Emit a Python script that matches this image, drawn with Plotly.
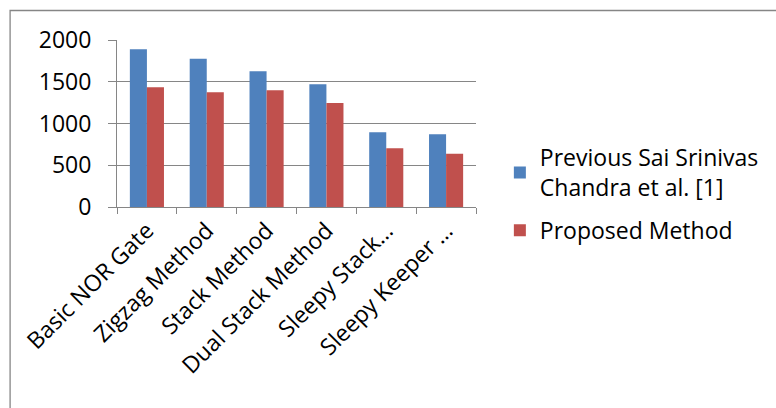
import plotly.graph_objects as go

categories = ["Basic NOR Gate", "Zigzag Method", "Stack Method", "Dual Stack Method",
              "Sleepy Stack…", "Sleepy Keeper …"]
previous = [1890, 1775, 1625, 1470, 895, 872]
proposed = [1435, 1374, 1398, 1247, 705, 637]
series_names = ["Previous Sai Srinivas<br>Chandra et al. [1]", "Proposed Method"]
y_ticks = [0, 500, 1000, 1500, 2000]

FONT = "Open Sans"
FS = 23
W, H = 776, 408
L, R, T, B = 117, 298, 40, 201
pw, ph = W - L - R, H - T - B

fig = go.Figure()
fig.add_trace(go.Bar(x=categories, y=previous, name=series_names[0], legendgroup="prev",
                     marker=dict(color="#4F81BD", line=dict(width=0))))
fig.add_trace(go.Bar(x=categories, y=proposed, name=series_names[1], legendgroup="prop",
                     marker=dict(color="#C0504D", line=dict(width=0))))

fig.update_layout(
    width=W, height=H,
    margin=dict(l=L, r=R, t=T, b=B),
    paper_bgcolor="white", plot_bgcolor="white",
    barmode="group", bargap=0.43, bargroupgap=0,
    font=dict(family=FONT, size=FS, color="black"),
    showlegend=True,
    legend=dict(x=(502 - L) / pw, xanchor="left", y=(H - B - 136) / ph, yanchor="top",
                font=dict(family=FONT, size=FS), tracegroupgap=10,
                bgcolor="rgba(0,0,0,0)", itemwidth=30),
    xaxis=dict(type="category", tickson="boundaries", ticks="outside", ticklen=6,
               tickcolor="#868686", tickwidth=1, showline=True, linecolor="#868686",
               linewidth=1, tickangle=-45, showgrid=False,
               tickfont=dict(family=FONT, size=FS)),
    yaxis=dict(range=[0, 2000], tickvals=y_ticks, ticks="outside", ticklen=8,
               tickcolor="#868686", showline=True, linecolor="#868686", linewidth=1,
               showgrid=True, gridcolor="#868686", gridwidth=1, zeroline=False,
               tickfont=dict(family=FONT, size=FS), ticklabelstandoff=12),
    shapes=[dict(type="rect", xref="paper", yref="paper",
                 x0=(9.5 - L) / pw, x1=(W + 20 - L) / pw,
                 y0=(H - B - (H + 20)) / ph, y1=(H - B - 10.5) / ph,
                 line=dict(color="#868686", width=1.3), layer="below")],
)

fig.write_html("out.html")
